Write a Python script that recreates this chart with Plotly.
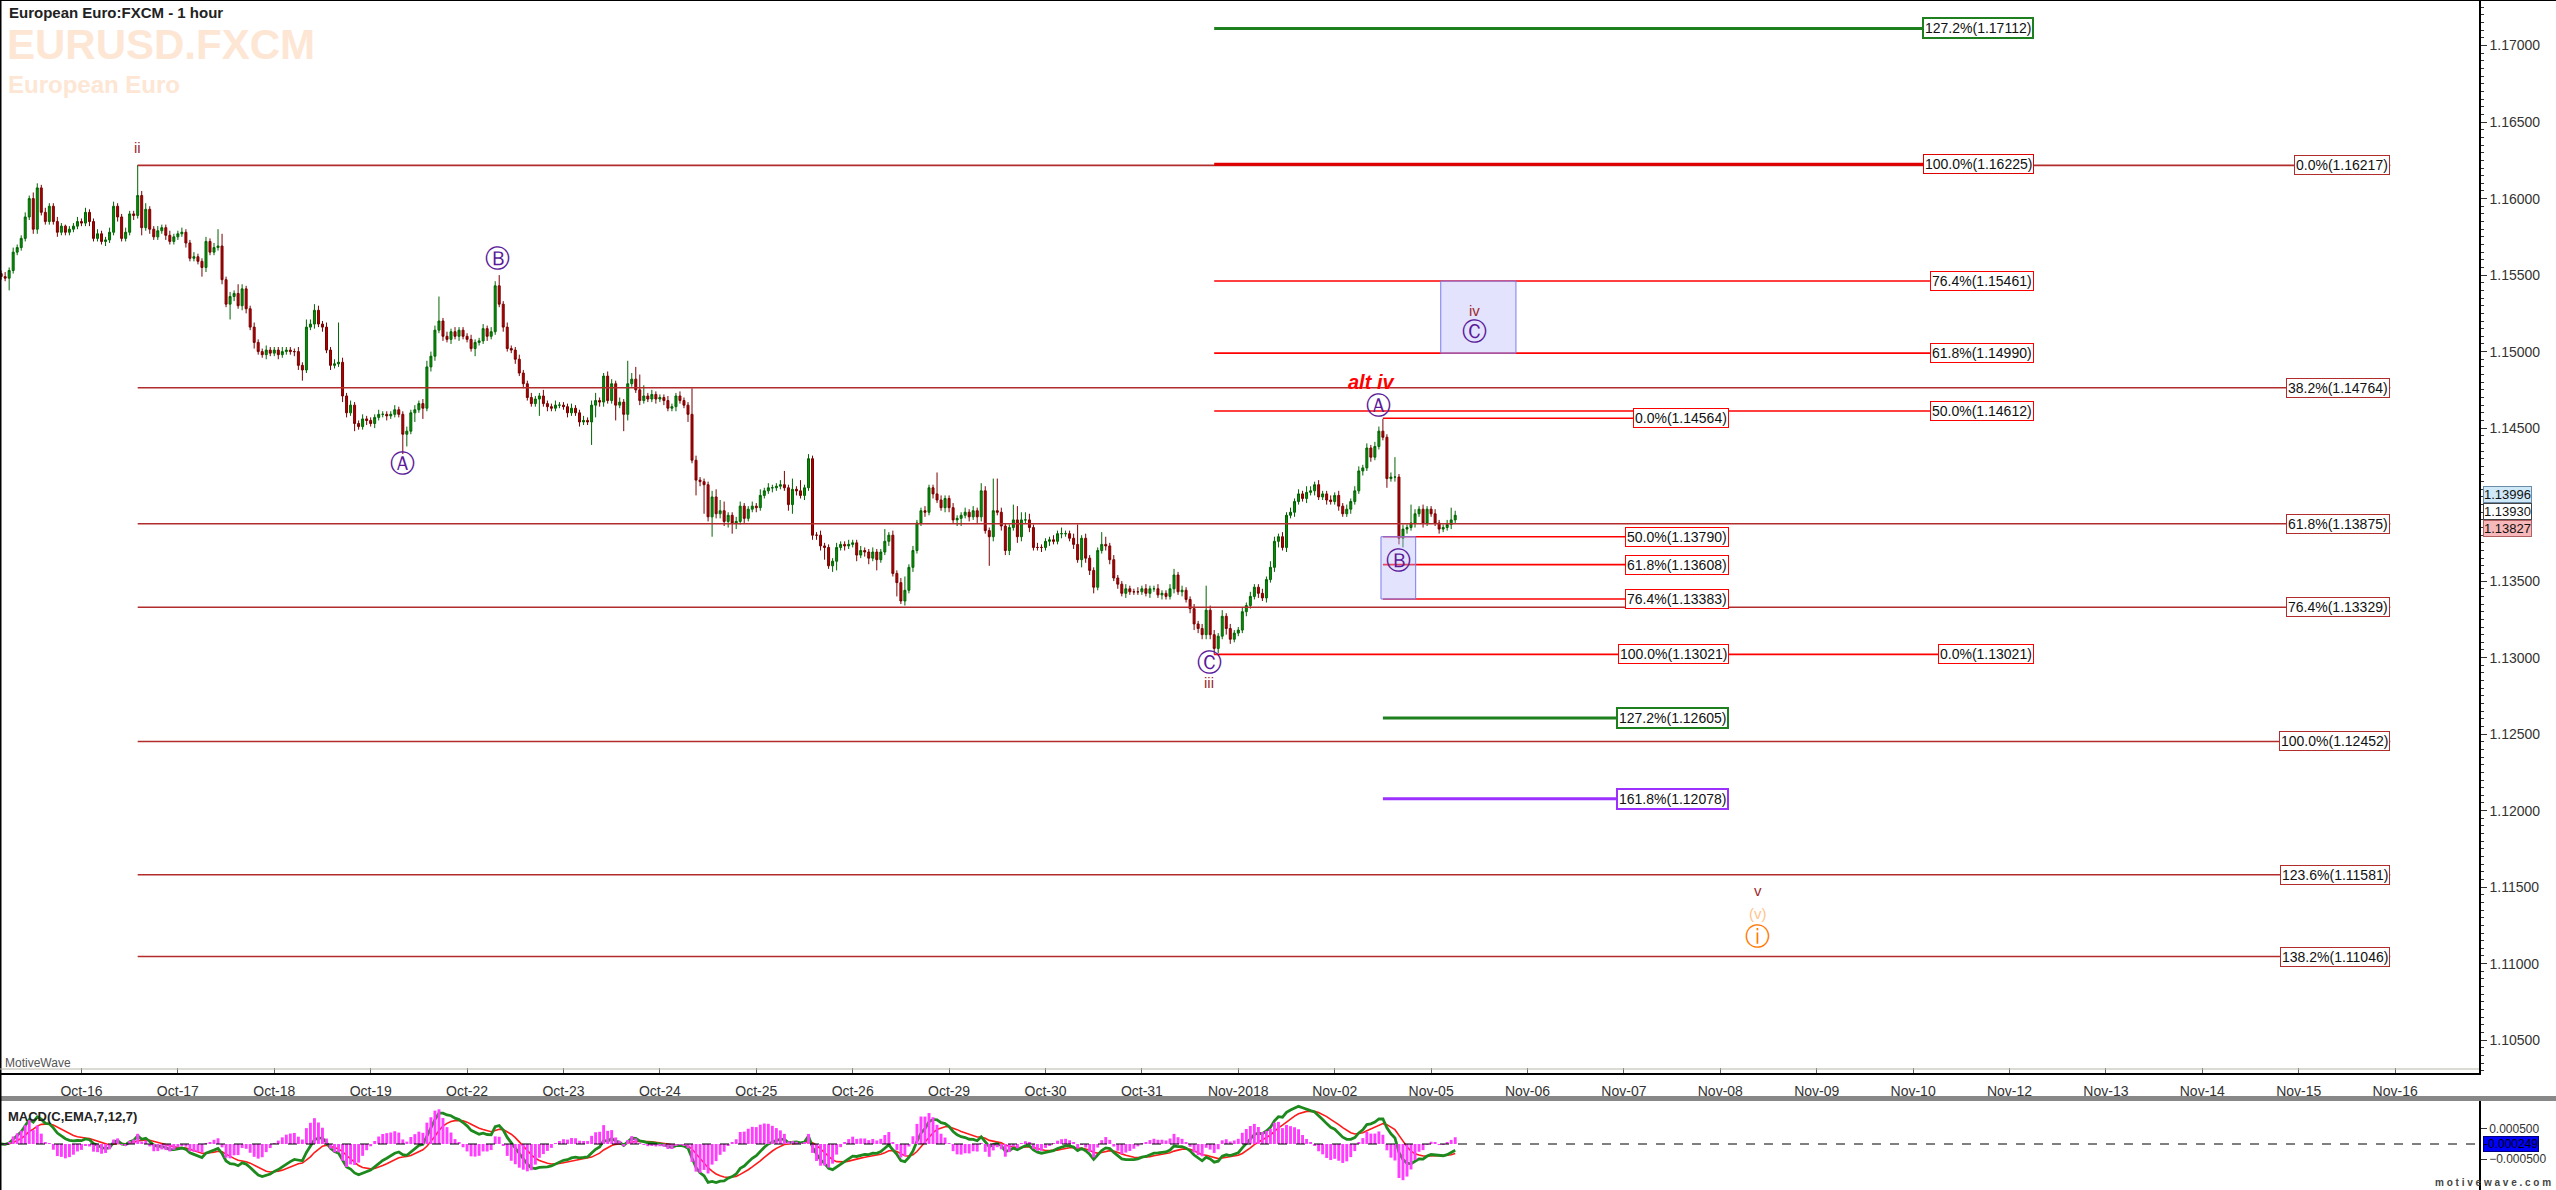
import pandas as pd
import plotly.graph_objects as go

W, H = 2556, 1190
FONT = "Liberation Sans, Arial, sans-serif"

# ---------------- data ----------------
day_labels = ["Oct-16", "Oct-17", "Oct-18", "Oct-19", "Oct-22", "Oct-23", "Oct-24", "Oct-25",
              "Oct-26", "Oct-29", "Oct-30", "Oct-31", "Nov-2018", "Nov-02", "Nov-05", "Nov-06",
              "Nov-07", "Nov-08", "Nov-09", "Nov-10", "Nov-12", "Nov-13", "Nov-14", "Nov-15", "Nov-16"]

first_open = 1.1551
bars_per_day = 24
first_bar_day = -20 / 24

close_oct15 = [1.1549, 1.1548, 1.1553, 1.1565, 1.1568, 1.1574, 1.1588, 1.1600, 1.1580, 1.1607,
               1.1591, 1.1585, 1.1595, 1.1585, 1.1578, 1.1582, 1.1578, 1.1580, 1.1582, 1.1585]
close_oct16 = [1.1584, 1.1591, 1.1585, 1.1574, 1.1577, 1.1572, 1.1573, 1.1578, 1.1595, 1.1588, 1.1574, 1.1578,
               1.1590, 1.1589, 1.1602, 1.1581, 1.1593, 1.1580, 1.1575, 1.1579, 1.1581, 1.1576, 1.1572, 1.1575]
close_oct17 = [1.1577, 1.1578, 1.1571, 1.1561, 1.1562, 1.1559, 1.1555, 1.1572, 1.1565, 1.1568, 1.1569, 1.1547,
               1.1531, 1.1536, 1.1538, 1.1530, 1.1541, 1.1528, 1.1516, 1.1506, 1.1500, 1.1498, 1.1501, 1.1499]
close_oct18 = [1.1501, 1.1498, 1.1500, 1.1501, 1.1500, 1.1500, 1.1491, 1.1488, 1.1516, 1.1518, 1.1527, 1.1518,
               1.1516, 1.1501, 1.1491, 1.1492, 1.1493, 1.1471, 1.1460, 1.1465, 1.1453, 1.1451, 1.1456, 1.1455]
close_oct19 = [1.1453, 1.1457, 1.1459, 1.1459, 1.1458, 1.1459, 1.1462, 1.1459, 1.1446, 1.1448, 1.1460, 1.1462,
               1.1466, 1.1463, 1.1490, 1.1497, 1.1514, 1.1520, 1.1510, 1.1508, 1.1513, 1.1510, 1.1514, 1.1510]
close_oct22 = [1.1508, 1.1502, 1.1506, 1.1507, 1.1515, 1.1510, 1.1513, 1.1543, 1.1531, 1.1516, 1.1502, 1.1501,
               1.1495, 1.1486, 1.1479, 1.1470, 1.1466, 1.1469, 1.1471, 1.1466, 1.1464, 1.1463, 1.1465, 1.1465]
close_oct23 = [1.1464, 1.1460, 1.1463, 1.1460, 1.1454, 1.1455, 1.1454, 1.1465, 1.1468, 1.1467, 1.1484, 1.1468,
               1.1479, 1.1465, 1.1467, 1.1459, 1.1479, 1.1482, 1.1475, 1.1468, 1.1471, 1.1469, 1.1472, 1.1469]
close_oct24 = [1.1470, 1.1468, 1.1463, 1.1464, 1.1471, 1.1468, 1.1465, 1.1459, 1.1429, 1.1416, 1.1415, 1.1413,
               1.1392, 1.1405, 1.1394, 1.1396, 1.1389, 1.1393, 1.1388, 1.1389, 1.1399, 1.1391, 1.1397, 1.1399]
close_oct25 = [1.1398, 1.1406, 1.1409, 1.1411, 1.1411, 1.1412, 1.1413, 1.1411, 1.1400, 1.1410, 1.1409, 1.1406,
               1.1411, 1.1430, 1.1380, 1.1380, 1.1373, 1.1372, 1.1360, 1.1363, 1.1372, 1.1374, 1.1373, 1.1374]
close_oct26 = [1.1375, 1.1367, 1.1370, 1.1369, 1.1365, 1.1369, 1.1364, 1.1369, 1.1376, 1.1380, 1.1355, 1.1349,
               1.1337, 1.1344, 1.1359, 1.1370, 1.1388, 1.1396, 1.1395, 1.1411, 1.1407, 1.1403, 1.1398, 1.1404]
close_oct29 = [1.1398, 1.1390, 1.1391, 1.1393, 1.1395, 1.1392, 1.1396, 1.1392, 1.1409, 1.1383, 1.1379, 1.1396,
               1.1395, 1.1386, 1.1370, 1.1385, 1.1390, 1.1379, 1.1390, 1.1390, 1.1385, 1.1372, 1.1372, 1.1372]
close_oct30 = [1.1376, 1.1377, 1.1376, 1.1381, 1.1381, 1.1381, 1.1378, 1.1374, 1.1364, 1.1378, 1.1365, 1.1357,
               1.1346, 1.1370, 1.1374, 1.1373, 1.1364, 1.1352, 1.1348, 1.1342, 1.1345, 1.1343, 1.1343, 1.1343]
close_oct31 = [1.1345, 1.1342, 1.1345, 1.1345, 1.1341, 1.1342, 1.1340, 1.1345, 1.1354, 1.1343, 1.1344, 1.1338,
               1.1332, 1.1322, 1.1319, 1.1315, 1.1331, 1.1315, 1.1306, 1.1314, 1.1327, 1.1319, 1.1312, 1.1316]
close_nov01 = [1.1318, 1.1330, 1.1334, 1.1340, 1.1346, 1.1342, 1.1339, 1.1351, 1.1359, 1.1376, 1.1379, 1.1372,
               1.1393, 1.1395, 1.1402, 1.1407, 1.1404, 1.1408, 1.1409, 1.1413, 1.1405, 1.1407, 1.1403, 1.1402]
close_nov02 = [1.1406, 1.1399, 1.1394, 1.1397, 1.1402, 1.1409, 1.1422, 1.1424, 1.1437, 1.1431, 1.1438, 1.1448,
               1.1444, 1.1417, 1.1418, 1.1418, 1.1378, 1.1384, 1.1385, 1.1388, 1.1394, 1.1397, 1.1388, 1.1397]
close_nov05 = [1.1394, 1.1388, 1.1384, 1.1385, 1.1387, 1.1390, 1.1393]

# upper / lower wick lengths in pips, read from the candles
wick_up_oct15 = [2, 3, 2, 3, 2, 2, 3, 2, 4, 3, 2, 3, 2, 2, 3, 2, 1, 2, 2, 3]
wick_dn_oct15 = [2, 2, 8, 2, 2, 2, 2, 2, 3, 3, 2, 2, 2, 2, 3, 2, 2, 2, 2, 2]
wick_up_oct16 = [2, 3, 2, 2, 3, 2, 2, 3, 3, 2, 2, 3, 2, 2, 20, 3, 4, 2, 2, 3, 2, 2, 3, 2]
wick_dn_oct16 = [2, 2, 3, 2, 2, 2, 3, 2, 2, 3, 2, 2, 2, 3, 2, 5, 2, 3, 2, 2, 2, 3, 2, 2]
wick_up_oct17 = [2, 3, 2, 2, 3, 2, 2, 3, 2, 3, 11, 8, 2, 3, 2, 6, 3, 2, 2, 3, 2, 2, 3, 2]
wick_dn_oct17 = [2, 2, 3, 2, 2, 2, 6, 3, 2, 2, 2, 3, 2, 10, 3, 2, 3, 3, 2, 4, 2, 2, 3, 2]
wick_up_oct18 = [2, 2, 3, 2, 2, 2, 3, 2, 5, 3, 4, 3, 2, 3, 2, 3, 26, 3, 2, 3, 2, 2, 3, 2]
wick_dn_oct18 = [2, 3, 2, 2, 2, 3, 3, 7, 2, 2, 3, 2, 3, 2, 3, 2, 2, 4, 3, 2, 5, 2, 2, 3]
wick_up_oct19 = [2, 2, 3, 2, 2, 2, 3, 2, 2, 3, 2, 3, 2, 3, 4, 3, 3, 16, 2, 3, 2, 3, 2, 2]
wick_dn_oct19 = [2, 3, 2, 2, 3, 2, 2, 2, 13, 8, 2, 6, 2, 7, 2, 3, 3, 2, 3, 2, 3, 2, 3, 2]
wick_up_oct22 = [2, 3, 2, 2, 3, 2, 3, 3, 7, 2, 3, 2, 2, 3, 2, 2, 3, 2, 2, 4, 2, 2, 3, 2]
wick_dn_oct22 = [2, 2, 5, 2, 2, 3, 2, 2, 2, 3, 2, 2, 3, 2, 3, 2, 2, 2, 11, 2, 3, 2, 2, 2]
wick_up_oct23 = [2, 2, 3, 2, 2, 3, 2, 3, 5, 2, 2, 3, 3, 2, 3, 2, 15, 4, 8, 10, 7, 2, 3, 2]
wick_dn_oct23 = [2, 3, 2, 2, 3, 2, 2, 15, 8, 3, 3, 2, 2, 10, 2, 11, 4, 2, 2, 3, 2, 2, 2, 3]
wick_up_oct24 = [2, 2, 3, 2, 2, 3, 2, 2, 17, 3, 2, 2, 2, 4, 5, 7, 6, 2, 2, 3, 3, 2, 2, 3]
wick_dn_oct24 = [2, 3, 2, 2, 3, 2, 2, 5, 2, 10, 3, 19, 3, 13, 3, 3, 3, 4, 7, 4, 2, 3, 2, 2]
wick_up_oct25 = [2, 4, 2, 3, 2, 2, 3, 9, 2, 7, 2, 7, 2, 3, 2, 2, 3, 2, 2, 2, 3, 2, 2, 3]
wick_dn_oct25 = [3, 2, 2, 2, 3, 2, 2, 2, 4, 6, 3, 2, 3, 2, 3, 3, 3, 8, 2, 4, 6, 2, 3, 2]
wick_up_oct26 = [2, 2, 3, 2, 2, 3, 2, 2, 8, 2, 3, 2, 3, 9, 2, 3, 2, 2, 3, 2, 2, 14, 3, 2]
wick_dn_oct26 = [2, 4, 2, 3, 4, 2, 7, 2, 2, 3, 2, 9, 2, 3, 2, 3, 2, 2, 3, 2, 3, 2, 2, 3]
wick_up_oct29 = [2, 3, 2, 2, 3, 2, 3, 2, 5, 3, 2, 21, 21, 3, 2, 2, 10, 9, 5, 5, 4, 2, 3, 2]
wick_dn_oct29 = [3, 2, 4, 5, 2, 3, 2, 4, 3, 2, 19, 3, 2, 3, 3, 3, 2, 4, 3, 2, 3, 2, 2, 3]
wick_up_oct30 = [2, 2, 3, 2, 4, 2, 2, 3, 13, 2, 3, 2, 2, 2, 8, 5, 2, 3, 2, 2, 3, 2, 2, 3]
wick_dn_oct30 = [2, 3, 2, 2, 3, 2, 2, 3, 2, 5, 3, 3, 4, 2, 2, 3, 3, 2, 3, 2, 3, 2, 2, 2]
wick_up_oct31 = [2, 3, 2, 2, 3, 2, 2, 3, 4, 2, 3, 2, 2, 3, 2, 3, 16, 3, 3, 2, 4, 2, 3, 2]
wick_dn_oct31 = [2, 2, 3, 2, 2, 3, 2, 2, 3, 2, 3, 2, 3, 4, 3, 3, 3, 3, 4, 3, 2, 4, 3, 2]
wick_up_nov01 = [2, 3, 2, 3, 2, 2, 3, 2, 4, 3, 2, 3, 2, 3, 2, 3, 2, 4, 3, 2, 3, 2, 2, 3]
wick_dn_nov01 = [2, 2, 3, 2, 2, 3, 2, 3, 2, 3, 4, 2, 3, 2, 3, 2, 2, 3, 2, 3, 2, 2, 3, 2]
wick_up_nov02 = [2, 3, 2, 3, 2, 3, 3, 2, 3, 2, 3, 3, 8, 2, 3, 13, 2, 3, 2, 12, 3, 2, 3, 2]
wick_dn_nov02 = [2, 3, 2, 2, 3, 2, 2, 3, 2, 3, 2, 2, 2, 6, 2, 3, 4, 6, 3, 2, 3, 2, 3, 2]
wick_up_nov05 = [2, 3, 2, 2, 3, 8, 3]
wick_dn_nov05 = [2, 2, 3, 2, 2, 3, 2]

# Fibonacci tools (percent, price)
ext_C_pct = [127.2, 100.0, 76.4, 61.8, 50.0]
ext_C_price = [1.17112, 1.16225, 1.15461, 1.14990, 1.14612]
iii_pct = [100.0, 0.0]
iii_price = [1.13021, 1.13021]
ret_A_pct = [0.0, 50.0, 61.8, 76.4]
ret_A_price = [1.14564, 1.13790, 1.13608, 1.13383]
proj_A_pct = [127.2, 161.8]
proj_A_price = [1.12605, 1.12078]
ii_pct = [0.0, 38.2, 61.8, 76.4, 100.0, 123.6, 138.2]
ii_price = [1.16217, 1.14764, 1.13875, 1.13329, 1.12452, 1.11581, 1.11046]

iv_zone_price = [1.14990, 1.15461]
altB_zone_price = [1.13383, 1.13790]

tag_prices = [1.13996, 1.13930, 1.13827]
macd_last_value = -0.000249

# ---------------- assemble candles ----------------
closes = (close_oct15 + close_oct16 + close_oct17 + close_oct18 + close_oct19 + close_oct22 + close_oct23 +
          close_oct24 + close_oct25 + close_oct26 + close_oct29 + close_oct30 + close_oct31 + close_nov01 +
          close_nov02 + close_nov05)
wick_up = (wick_up_oct15 + wick_up_oct16 + wick_up_oct17 + wick_up_oct18 + wick_up_oct19 + wick_up_oct22 +
           wick_up_oct23 + wick_up_oct24 + wick_up_oct25 + wick_up_oct26 + wick_up_oct29 + wick_up_oct30 +
           wick_up_oct31 + wick_up_nov01 + wick_up_nov02 + wick_up_nov05)
wick_dn = (wick_dn_oct15 + wick_dn_oct16 + wick_dn_oct17 + wick_dn_oct18 + wick_dn_oct19 + wick_dn_oct22 +
           wick_dn_oct23 + wick_dn_oct24 + wick_dn_oct25 + wick_dn_oct26 + wick_dn_oct29 + wick_dn_oct30 +
           wick_dn_oct31 + wick_dn_nov01 + wick_dn_nov02 + wick_dn_nov05)
PIP = 0.0001
opens = [first_open] + closes[:-1]
highs = [max(o, c) + u * PIP for o, c, u in zip(opens, closes, wick_up)]
lows = [min(o, c) - d * PIP for o, c, d in zip(opens, closes, wick_dn)]
bar_day = [first_bar_day + i / bars_per_day for i in range(len(closes))]

i_ii = max(range(60), key=lambda i: highs[i])
i_iii = min(range(len(lows)), key=lambda i: lows[i])
i_A = max(range(300, len(highs)), key=lambda i: highs[i])
d_ii, d_iii, d_A = bar_day[i_ii], bar_day[i_iii], bar_day[i_A]

s = pd.Series(closes)
macd = s.ewm(span=7, adjust=False).mean() - s.ewm(span=12, adjust=False).mean()
signal = macd.ewm(span=7, adjust=False).mean()
hist = macd - signal

# ---------------- geometry helpers (pixels of the reference) ----------------
PLOT_R = 2479
MAIN_BOTTOM = 1073
MACD_TOP = 1101
def px(x):
    return x / PLOT_R
def py(y):
    return 1 - y / H

X_RANGE = [-0.845, 24.87]
Y_RANGE = [1.10285, 1.17298]
MACD_RANGE = [-0.00153, 0.00143]
HIST_SCALE = 2.0   # histogram drawn on its own (finer) scale, zero aligned

fig = go.Figure()
fig.add_trace(go.Candlestick(
    x=bar_day, open=opens, high=highs, low=lows, close=closes,
    increasing=dict(line=dict(color="#006400", width=1), fillcolor="#0A8C0A"),
    decreasing=dict(line=dict(color="#7A0000", width=1), fillcolor="#B00000"),
    whiskerwidth=0, showlegend=False, xaxis="x", yaxis="y"))
fig.add_trace(go.Bar(x=bar_day, y=hist, marker=dict(color="#FF3CFF", line=dict(width=0)),
                     width=0.72 / bars_per_day, xaxis="x2", yaxis="y3", showlegend=False))
fig.add_trace(go.Scatter(x=bar_day, y=signal, mode="lines", line=dict(color="#FF1A1A", width=1.6),
                         xaxis="x2", yaxis="y2", showlegend=False))
fig.add_trace(go.Scatter(x=bar_day, y=macd, mode="lines", line=dict(color="#1E8A1E", width=2.8),
                         xaxis="x2", yaxis="y2", showlegend=False))

shapes = []
annotations = []

RED = "#FF0000"
BROWN = "#B22C2C"
GREEN = "#1E7F1E"
PURPLE = "#9B30FF"
END_NEAR, END_MID, END_FAR = 17.09, 20.254, 23.95

def hline(x0, x1, y, color, width):
    shapes.append(dict(type="line", xref="x", yref="y", x0=x0, x1=x1, y0=y, y1=y,
                       line=dict(color=color, width=width), layer="above"))

def fib_label(x, y, pct, price, color, bw=1):
    annotations.append(dict(x=x, y=y, xref="x", yref="y", xanchor="right", yanchor="middle",
                            text=f"{pct:.1f}%({price:.5f})", showarrow=False,
                            font=dict(family=FONT, size=14, color="#111"),
                            bgcolor="white", bordercolor=color, borderwidth=bw, borderpad=1))

for pct, price in zip(ii_pct, ii_price):
    hline(d_ii, END_FAR, price, BROWN, 1.6)
    fib_label(END_FAR, price, pct, price, BROWN)

ext_colors = [GREEN, "#E00000", RED, RED, RED]
ext_widths = [3, 3, 1.6, 1.6, 1.6]
for pct, price, col, w in zip(ext_C_pct, ext_C_price, ext_colors, ext_widths):
    hline(d_iii, END_MID, price, col, w)
    fib_label(END_MID, price, pct, price, col, 2 if col == GREEN else 1)

hline(d_iii, END_MID, iii_price[0], RED, 1.6)
fib_label(END_NEAR, iii_price[0], iii_pct[0], iii_price[0], RED)
fib_label(END_MID, iii_price[1], iii_pct[1], iii_price[1], RED)

for pct, price in zip(ret_A_pct, ret_A_price):
    hline(d_A, END_NEAR, price, RED, 1.6)
    fib_label(END_NEAR, price, pct, price, RED)
for pct, price, col in zip(proj_A_pct, proj_A_price, [GREEN, PURPLE]):
    hline(d_A, END_NEAR, price, col, 3)
    fib_label(END_NEAR, price, pct, price, col, 2)

shapes.append(dict(type="rect", xref="x", yref="y", x0=14.10, x1=14.88, y0=iv_zone_price[0], y1=iv_zone_price[1],
                   fillcolor="rgba(185,185,250,0.40)", line=dict(color="#7C7CF0", width=1), layer="above"))
shapes.append(dict(type="rect", xref="x", yref="y", x0=13.48, x1=13.84, y0=altB_zone_price[0], y1=altB_zone_price[1],
                   fillcolor="rgba(185,185,250,0.40)", line=dict(color="#7C7CF0", width=1), layer="above"))

WAVE = "#9E2A2B"
CIRC = "#5B1A9A"
CF = "DejaVu Sans"
wave_labels = [
    ("ii", d_ii, 1.16337, WAVE, 15, FONT),
    ("Ⓐ", 3.335, 1.14270, CIRC, 25, CF),
    ("Ⓑ", 4.315, 1.15606, CIRC, 25, CF),
    ("Ⓐ", 13.45, 1.14649, CIRC, 25, CF),
    ("Ⓑ", 13.66, 1.13635, CIRC, 25, CF),
    ("Ⓒ", 11.70, 1.12967, CIRC, 25, CF),
    ("iii", 11.70, 1.12835, WAVE, 15, FONT),
    ("iv", 14.45, 1.15268, WAVE, 15, FONT),
    ("Ⓒ", 14.45, 1.15130, CIRC, 25, CF),
    ("v", 17.39, 1.11475, WAVE, 15, FONT),
    ("(v)", 17.39, 1.11329, "#FFC48E", 15, FONT),
    ("ⓘ", 17.39, 1.11180, "#FF7A00", 25, CF),
]
for t, x, y, c, sz, fam in wave_labels:
    annotations.append(dict(x=x, y=y, xref="x", yref="y", text=t, showarrow=False,
                            font=dict(family=fam, size=sz, color=c)))
annotations.append(dict(x=13.38, y=1.14800, xref="x", yref="y", text="<b><i>alt iv</i></b>", showarrow=False,
                        font=dict(family=FONT, size=20, color="#FF0000")))

annotations += [
    dict(x=px(7), y=py(13), xref="paper", yref="paper", xanchor="left", yanchor="middle",
         text="<b>European Euro:FXCM - 1 hour</b>", showarrow=False, font=dict(family=FONT, size=15, color="#222")),
    dict(x=px(5), y=py(45), xref="paper", yref="paper", xanchor="left", yanchor="middle",
         text="<b>EURUSD.FXCM</b>", showarrow=False, font=dict(family=FONT, size=42, color="#FDE6D4")),
    dict(x=px(6), y=py(85), xref="paper", yref="paper", xanchor="left", yanchor="middle",
         text="<b>European Euro</b>", showarrow=False, font=dict(family=FONT, size=24, color="#FDE6D4")),
    dict(x=px(3), y=py(1063), xref="paper", yref="paper", xanchor="left", yanchor="middle",
         text="MotiveWave", showarrow=False, font=dict(family=FONT, size=12, color="#555")),
    dict(x=px(6), y=py(1116), xref="paper", yref="paper", xanchor="left", yanchor="middle",
         text="<b>MACD(C,EMA,7,12,7)</b>", showarrow=False, font=dict(family=FONT, size=13, color="#222")),
    dict(x=px(2553), y=py(1182), xref="paper", yref="paper", xanchor="right", yanchor="middle",
         text="<b>m o t i v e w a v e . c o m</b>", showarrow=False, font=dict(family=FONT, size=10, color="#444")),
]
# current-price tags, stacked at the right axis (they hide the 1.14000 tick label, as in the original)
tag_styles = [("#CFE8F8", "#6A8CA8"), ("white", "#444"), ("#F6B8B8", "#B06060")]
tag_px = [494, 511, 528]
for v, ypx, (bg, bc) in zip(tag_prices, tag_px, tag_styles):
    annotations.append(dict(x=px(2483), y=py(ypx), xref="paper", yref="paper", xanchor="left", yanchor="middle",
                            text=f"{v:.5f}", showarrow=False, font=dict(family=FONT, size=13, color="#111"),
                            bgcolor=bg, bordercolor=bc, borderwidth=1, borderpad=0))
annotations.append(dict(x=px(2483), y=py(1144), xref="paper", yref="paper", xanchor="left", yanchor="middle",
                        text=f"{macd_last_value:.6f}", showarrow=False,
                        font=dict(family=FONT, size=12, color="#000"),
                        bgcolor="#0000FF", bordercolor="#000080", borderwidth=1, borderpad=0))

shapes += [
    dict(type="rect", xref="paper", yref="paper", x0=0, x1=W / PLOT_R, y0=py(MACD_TOP), y1=py(1096),
         fillcolor="#888888", line=dict(width=0), layer="above"),
    dict(type="line", xref="paper", yref="paper", x0=0, x1=W / PLOT_R, y0=1, y1=1, line=dict(color="black", width=2)),
    dict(type="line", xref="paper", yref="paper", x0=0, x1=0, y0=0, y1=1, line=dict(color="black", width=3)),
    dict(type="line", xref="paper", yref="y2", x0=0, x1=1, y0=0, y1=0, line=dict(color="black", width=1, dash="dash")),
    dict(type="line", xref="paper", yref="paper", x0=0, x1=1, y0=py(MAIN_BOTTOM - 4), y1=py(MAIN_BOTTOM - 4),
         line=dict(color="#B8B8A8", width=1)),
]

fig.update_layout(
    width=W, height=H, margin=dict(l=0, r=W - PLOT_R, t=0, b=0),
    paper_bgcolor="white", plot_bgcolor="white", showlegend=False, hovermode=False,
    shapes=shapes, annotations=annotations,
    xaxis=dict(domain=[0, 1], anchor="y", range=X_RANGE, tickmode="array",
               tickvals=list(range(len(day_labels))), ticktext=day_labels, ticks="inside", ticklen=5,
               tickcolor="#666", showline=True, linecolor="black", linewidth=1.5, showgrid=False, zeroline=False,
               tickfont=dict(family=FONT, size=14, color="#333"), rangeslider=dict(visible=False),
               ticklabelstandoff=4),
    yaxis=dict(domain=[py(MAIN_BOTTOM), 1], anchor="x", side="right", range=Y_RANGE,
               tickmode="linear", tick0=1.105, dtick=0.005, tickformat=".5f", ticks="outside", ticklen=6,
               labelalias={"1.14000": ""},
               tickcolor="#333", minor=dict(dtick=0.0005, ticklen=3, ticks="outside", tickcolor="#333"),
               showline=True, linecolor="black", linewidth=1.5, showgrid=False, zeroline=False,
               tickfont=dict(family=FONT, size=14, color="#333")),
    xaxis2=dict(domain=[0, 1], anchor="y2", matches="x", showticklabels=False, showline=True,
                linecolor="black", linewidth=2, showgrid=False, zeroline=False, ticks=""),
    yaxis2=dict(domain=[0, py(MACD_TOP)], anchor="x2", side="right", range=MACD_RANGE,
                tickmode="array", tickvals=[0.0005, -0.0005], tickformat=".6f", ticks="outside", ticklen=6,
                tickcolor="#333", showline=True, linecolor="black", linewidth=1.5, showgrid=False,
                zeroline=False, tickfont=dict(family=FONT, size=12, color="#333")),
    yaxis3=dict(overlaying="y2", anchor="x2", side="right", visible=False,
                range=[MACD_RANGE[0] / HIST_SCALE, MACD_RANGE[1] / HIST_SCALE]),
)

fig.write_html("out.html", config={"displayModeBar": False},
               post_script="document.body.style.margin='0px';document.body.style.overflow='hidden';")
